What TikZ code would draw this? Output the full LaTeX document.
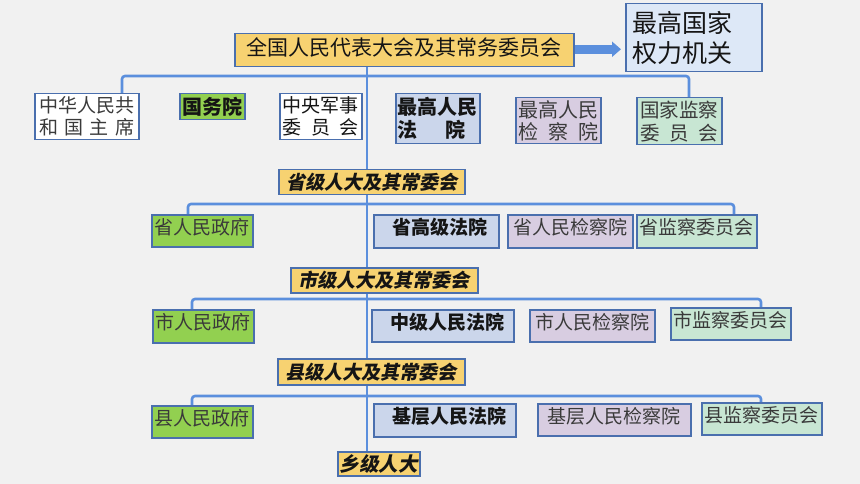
\documentclass[tikz,border=0pt]{standalone}
\usepackage{fontspec}
\setmainfont{Noto Sans CJK SC}
\newfontfamily\slantfont{Noto Sans CJK SC}[FakeSlant=0.2]
\usetikzlibrary{arrows.meta,backgrounds}
\definecolor{bg}{HTML}{F1F1F1}
\definecolor{bdr}{HTML}{4A6FAE}
\definecolor{connc}{HTML}{5B8FDD}
\definecolor{yel}{HTML}{F7D271}
\definecolor{pw}{HTML}{DDE8F7}
\definecolor{grn}{HTML}{92D050}
\definecolor{crt}{HTML}{CBD6EB}
\definecolor{prc}{HTML}{D8CDE1}
\definecolor{sup}{HTML}{C8E6D3}
\definecolor{gry}{HTML}{3A3A3A}
\definecolor{blk}{HTML}{151515}
\begin{document}
\begin{tikzpicture}[x=1pt,y=-1pt,
  box/.style={draw=bdr, line width=1.5pt, inner sep=0pt, anchor=north west, text=blk,
    font=\fontsize{19pt}{22pt}\selectfont},
  yelbox/.style={box, fill=yel, font=\fontsize{19pt}{22pt}\selectfont\slantfont\bfseries},
  lo/.style={text height=16.7pt, text depth=9.3pt},
  grnbox/.style={box, fill=grn, text=gry, lo},
  crtbox/.style={box, fill=crt, lo, font=\fontsize{19pt}{22pt}\selectfont\bfseries},
  prcbox/.style={box, fill=prc, text=gry, lo},
  supbox/.style={box, fill=sup, text=gry, lo},
  conn/.style={draw=connc, line width=2.6pt, rounded corners=3pt},
  bigarrow/.style={draw=connc, line width=8.7pt, -{Triangle[width=15pt,length=9pt]}, shorten >=4pt}
]
\useasboundingbox (0,0) rectangle (860,484);

% top level
\node[box, fill=yel, minimum width=339pt, minimum height=33pt,
  font=\fontsize{21pt}{24pt}\selectfont, text height=18.5pt, text depth=8.5pt] (npc) at (234,33)
  {全国人民代表大会及其常务委员会\hspace{12pt}};
\node[box, fill=pw, minimum width=136pt, minimum height=68pt, text width=122pt, align=left,
  font=\fontsize{25pt}{30pt}\selectfont] (power) at (625,3) {最高国家\\权力机关};

% row 1
\node[box, fill=white, minimum width=104pt, minimum height=46pt, align=center, text=gry] (pres) at (34,93)
  {中华人民共\\\makebox[5em]{和\hfill 国\hfill 主\hfill 席}};
\node[box, fill=grn, minimum width=65pt, minimum height=26pt,
  font=\fontsize{20pt}{24pt}\selectfont\bfseries] (gwy) at (179,93) {国务院};
\node[box, fill=white, minimum width=82pt, minimum height=46pt, align=center] (cmc) at (279,93)
  {中央军事\\\makebox[4em]{委\hfill 员\hfill 会}};
\node[box, fill=crt, minimum width=84pt, minimum height=50pt, align=center,
  font=\fontsize{20pt}{23pt}\selectfont\bfseries] (spc) at (395,93)
  {最高人民\\\makebox[4em][l]{法\hspace{1.4em}院}};
\node[box, fill=prc, minimum width=85pt, minimum height=46pt, align=center, text=gry,
  font=\fontsize{20pt}{22pt}\selectfont] (spp) at (515,97)
  {最高人民\\\makebox[4em]{检\hfill 察\hfill 院}};
\node[box, fill=sup, minimum width=85pt, minimum height=47pt, align=center, text=gry,
  font=\fontsize{19.5pt}{23pt}\selectfont] (nsc) at (636,97)
  {国家监察\\\makebox[4em]{委\hfill 员\hfill 会}};

% row 2 (province)
\node[yelbox, minimum width=186pt, minimum height=25pt] (prov) at (278,169) {省级人大及其常委会\hspace{10pt}};
\node[grnbox, minimum width=101pt, minimum height=32pt] (pgov) at (151,214) {省人民政府};
\node[crtbox, minimum width=125pt, minimum height=33pt] (pcourt) at (373,214) {\hspace{7pt}省高级法院};
\node[prcbox, minimum width=125pt, minimum height=33pt] (pproc) at (507,214) {省人民检察院\hspace{6pt}};
\node[supbox, minimum width=120pt, minimum height=33pt] (psup) at (636,214) {省监察委员会};

% row 3 (city)
\node[yelbox, minimum width=187pt, minimum height=25pt] (city) at (290,267) {市级人大及其常委会\hspace{10pt}};
\node[grnbox, minimum width=101pt, minimum height=33pt] (cgov) at (152,309) {市人民政府};
\node[crtbox, minimum width=142pt, minimum height=32pt] (ccourt) at (371,309) {\hspace{10pt}中级人民法院};
\node[prcbox, minimum width=125pt, minimum height=32pt] (cproc) at (529,309) {市人民检察院\hspace{5pt}};
\node[supbox, minimum width=120pt, minimum height=32pt] (csup) at (670,307) {市监察委员会};

% row 4 (county)
\node[yelbox, minimum width=187pt, minimum height=26pt] (county) at (277,358) {县级人大及其常委会\hspace{10pt}};
\node[grnbox, minimum width=101pt, minimum height=32pt] (kgov) at (151,405) {县人民政府};
\node[crtbox, minimum width=142pt, minimum height=33pt] (kcourt) at (373,403) {\hspace{10pt}基层人民法院};
\node[prcbox, minimum width=153pt, minimum height=32pt] (kproc) at (537,403) {基层人民检察院\hspace{14pt}};
\node[supbox, minimum width=120pt, minimum height=32pt] (ksup) at (701,402) {县监察委员会};

% township
\node[yelbox, minimum width=82pt, minimum height=24pt, font=\fontsize{19.5pt}{22pt}\selectfont\slantfont\bfseries] (town) at (337,451) {乡级人大};

% bus coordinates
\coordinate (trunk) at (367,0);
\coordinate (b1L) at (122,76);  \coordinate (b1R) at (689,76);
\coordinate (b2L) at (188,204); \coordinate (b2R) at (734,204);
\coordinate (b3L) at (192,299); \coordinate (b3R) at (761,299);
\coordinate (b4L) at (192,396); \coordinate (b4R) at (761,396);

\begin{scope}[on background layer]
  \fill[bg] (0,0) rectangle (860,484);
  \draw[conn] (pres.north -| b1L) -- (b1L) -- (b1R) -- (nsc.north -| b1R);
  \draw[conn] (pgov.north -| b2L) -- (b2L) -- (b2R) -- (psup.north -| b2R);
  \draw[conn] (cgov.north -| b3L) -- (b3L) -- (b3R) -- (csup.north -| b3R);
  \draw[conn] (kgov.north -| b4L) -- (b4L) -- (b4R) -- (ksup.north -| b4R);
  \draw[conn] (npc.south -| trunk) -- (prov.north -| trunk);
  \draw[conn] (prov.south -| trunk) -- (city.north -| trunk);
  \draw[conn] (city.south -| trunk) -- (county.north -| trunk);
  \draw[conn] (county.south -| trunk) -- (town.north -| trunk);
\end{scope}

\draw[bigarrow] ([yshift=1pt]npc.east) -- ([yshift=1pt]npc.east -| power.west);
\end{tikzpicture}
\end{document}
